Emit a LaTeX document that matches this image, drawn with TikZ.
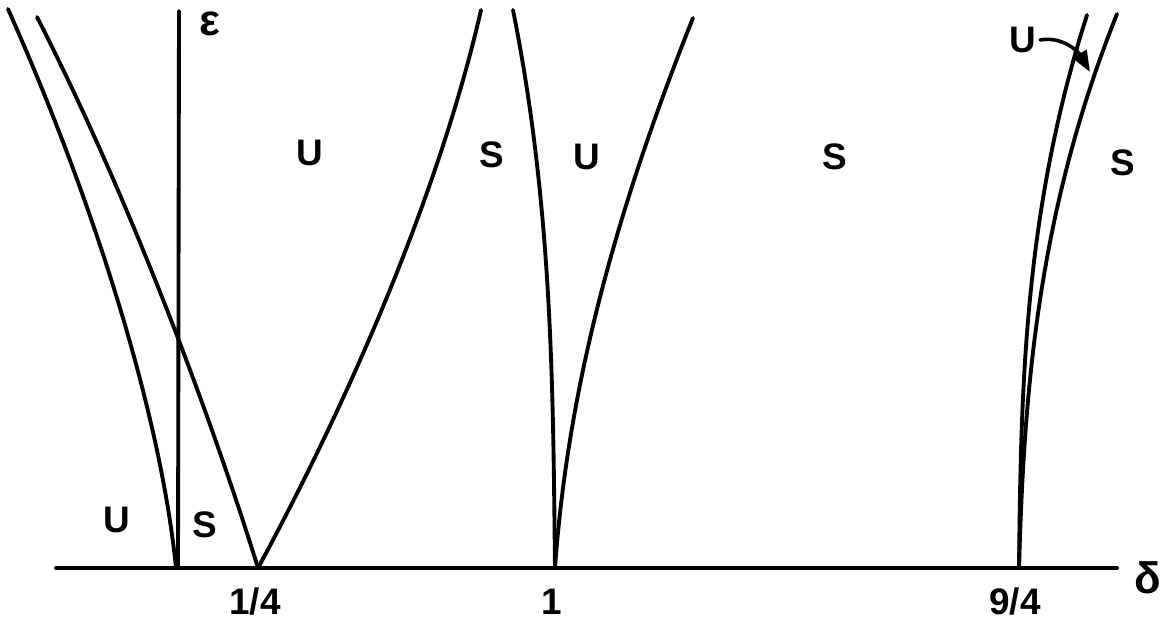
\documentclass[tikz,border=0pt]{standalone}
\usepackage{fontspec}
\setmainfont{Liberation Sans}
\usetikzlibrary{arrows.meta,positioning}

\begin{document}
\begin{tikzpicture}[line width=2.2pt, line cap=round, line join=round,
  lbl/.style={font=\fontsize{21}{25}\selectfont\bfseries, inner sep=1pt},
  greek/.style={font=\fontsize{25}{28}\selectfont\bfseries, inner sep=0pt}]
  \useasboundingbox (0,0) rectangle (23.28,12.68);

  % Draw axes
  \coordinate (origin) at (1.12,1.32);
  \coordinate (dend) at (22.34,1.32);
  \coordinate (ebot) at (3.56,1.32);
  \coordinate (etop) at (3.58,12.46);
  \draw (origin) -- (dend);
  \draw (ebot) -- (etop);
  \node[greek] (dlab) at (22.96,1.12) {δ};
  \node[greek] (elab) at (4.2,12.2) {ε};

  % Tick labels
  \foreach \x/\label/\name in {5.1/{1/4}/qa, 11.04/1/qb, 20.3/{9/4}/qc} {
    \node[lbl] (\name) at (\x,0.64) {\label};
  }

  % Transition curves near 1/4
  \draw (3.52,1.32) .. controls (3.22,4.32) and (1.94,8.5) .. (0.16,12.5);
  \draw (5.16,1.32) .. controls (4.23,4.32) and (2.6,8.7) .. (0.74,12.34);
  \draw (5.16,1.32) .. controls (7.1,4.9) and (8.82,8.98) .. (9.62,12.48);

  % Transition curves near 1
  \draw (11.1,1.32) .. controls (11.06,4.8) and (11.06,8.48) .. (10.26,12.48);
  \draw (11.1,1.32) .. controls (11.35,4.82) and (12.26,8.32) .. (13.86,12.32);

  % Transition curves near 9/4
  \draw (20.38,1.32) .. controls (20.42,4.8) and (20.46,8.38) .. (21.74,12.38);
  \draw (20.38,1.32) .. controls (20.48,4.8) and (20.74,8.4) .. (22.34,12.4);

  % Regions: U unstable, S stable
  \foreach \x/\y/\t/\name in {6.2/9.62/U/ua, 9.84/9.58/S/sa, 11.74/9.54/U/ub,
      16.7/9.54/S/sb, 22.46/9.42/S/sc, 2.34/2.28/U/uc, 4.1/2.18/S/sd} {
    \node[lbl] (\name) at (\x,\y) {\t};
  }

  % Thin unstable band at 9/4
  \node[lbl] (ud) at (20.46,11.88) {U};
  \coordinate (utip) at (21.8,11.24);
  \draw[-{Triangle[length=12pt,width=9pt]}, line width=2pt] (ud.east) to[out=10,in=120] (utip);
\end{tikzpicture}
\end{document}
